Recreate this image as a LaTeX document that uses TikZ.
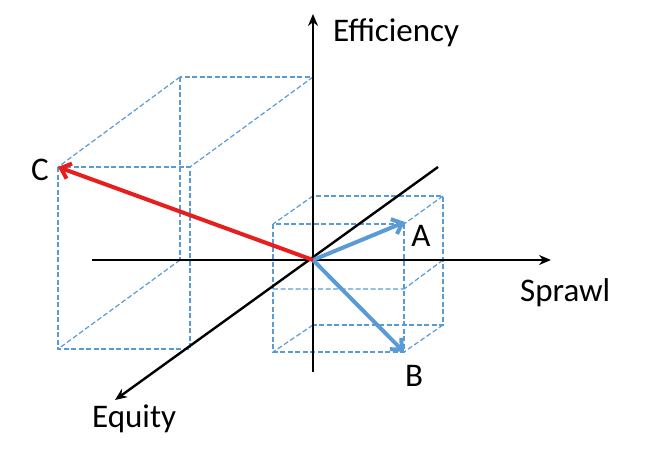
\documentclass[tikz,border=0pt]{standalone}
\usepackage{fontspec}
\setmainfont{Carlito}
\usetikzlibrary{arrows.meta}
\begin{document}
\begin{tikzpicture}[x=1pt,y=-1pt,
  box/.style={draw={rgb,255:red,91;green,155;blue,213},line width=1.2pt,dash pattern=on 5pt off 2.5pt},
  ax/.style={draw=black,line width=2.8pt,-{Stealth[length=12pt,width=10pt]}},
  vec/.style={line width=4pt,-{Straight Barb[length=9pt,width=16pt]}},
  lab/.style={font=\fontsize{33}{36}\selectfont,inner sep=0pt}]
\useasboundingbox (0,0) rectangle (646,448);
\coordinate (O) at (313,260);
% big box
\draw[box] (180,77) rectangle (313,260);
\draw[box] (58,167) rectangle (190,349);
\draw[box] (180,77)--(58,167) (313,77)--(190,167) (180,260)--(58,349);
% small box
\draw[box] (313,196) rectangle (443,325);
\draw[box] (273,224) rectangle (404,352);
\draw[box] (273,289)--(404,289) (443,260)--(404,289)
  (313,196)--(273,224) (443,196)--(404,224) (443,325)--(404,352) (313,325)--(273,352);
% axes
\coordinate (vb) at (313,372); \coordinate (vt) at (313,14);
\coordinate (hl) at (92,260); \coordinate (hr) at (551,260);
\coordinate (dt) at (438,167); \coordinate (db) at (115,400);
\draw[ax] (vb)--(vt);
\draw[ax] (hl)--(hr);
\draw[ax,line width=2.4pt] (dt)--(db);
% vectors
\coordinate (A) at (405,222); \coordinate (B) at (404,352); \coordinate (C) at (58,167);
\draw[vec,draw={rgb,255:red,91;green,155;blue,213}] (O)--(A);
\draw[vec,draw={rgb,255:red,91;green,155;blue,213}] (O)--(B);
\draw[vec,draw={rgb,255:red,230;green,30;blue,30}] (O)--(C);
% labels
\node[lab] (la) at (421,236) {A};
\node[lab] (lb) at (414,376) {B};
\node[lab] (lc) at (40,170) {C};
\node[lab,anchor=west] (le) at (333,33) {Efficiency};
\node[lab,anchor=west] (ls) at (520,293) {Sprawl};
\node[lab,anchor=west] (lq) at (92,419) {Equity};
\end{tikzpicture}
\end{document}
